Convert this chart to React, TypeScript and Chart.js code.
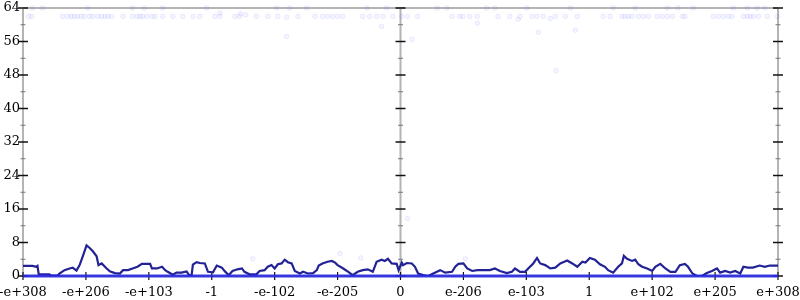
import React, { useEffect, useRef } from "react";
import { Chart, registerables } from "chart.js";

Chart.register(...registerables);

const xTickLabels = ["-e+308", "-e+206", "-e+103", "-1", "-e-102", "-e-205", "0", "e-206", "e-103", "1", "e+102", "e+205", "e+308"];
const xTickValues = [-6, -5, -4, -3, -2, -1, 0, 1, 2, 3, 4, 5, 6];
const yMax = 64;
const yStep = 8;

const lineX = [
  -6.0, -5.85, -5.79, -5.77, -5.75, -5.58, -5.55, -5.45, -5.42, -5.34, -5.26, -5.21, -5.15, -5.1, -5.05, -4.99, -4.94, -4.89, -4.83, -4.8, -4.75, -4.67, -4.62, -4.54, -4.46, -4.41, -4.33, -4.26, -4.18, -4.11, -3.98, -3.95, -3.87, -3.79, -3.74, -3.7, -3.62, -3.56, -3.48, -3.4, -3.36, -3.32, -3.3, -3.24, -3.19,
  -3.11, -3.06, -2.98, -2.92, -2.84, -2.79, -2.73, -2.67, -2.59, -2.52, -2.48, -2.4, -2.29, -2.24, -2.16, -2.11, -2.05, -2.0, -1.95, -1.89, -1.84, -1.79, -1.73, -1.68, -1.6, -1.55, -1.47, -1.39, -1.33, -1.3, -1.24, -1.16, -1.09, -1.04, -1.0, -0.91, -0.83, -0.76, -0.68, -0.6, -0.52, -0.44, -0.38, -0.3, -0.25, -0.2, -0.14, -0.06, -0.03,
  0.02, 0.04, 0.1, 0.18, 0.23, 0.28, 0.36, 0.44, 0.52, 0.63, 0.71, 0.82, 0.87, 0.92, 1.0, 1.06, 1.14, 1.22, 1.31, 1.42, 1.5, 1.58, 1.69, 1.77, 1.82, 1.9, 1.98, 2.03, 2.11, 2.17, 2.22, 2.3, 2.38, 2.46, 2.54, 2.65, 2.73, 2.81, 2.89, 2.94,
  3.01, 3.09, 3.17, 3.25, 3.3, 3.38, 3.46, 3.52, 3.55, 3.6, 3.68, 3.73, 3.78, 3.84, 3.92, 4.0, 4.05, 4.13, 4.21, 4.29, 4.37, 4.44, 4.52, 4.57, 4.64, 4.71, 4.79, 4.87, 4.95, 5.03, 5.08, 5.16, 5.24, 5.32, 5.4, 5.45, 5.52, 5.6, 5.71, 5.79, 5.87, 6.0,
];
const lineY = [
  2.4, 2.4, 2.2, 2.4, 0.4, 0.4, 0.1, 0.1, 0.6, 1.4, 1.8, 2.0, 1.3, 2.6, 4.7, 7.3, 6.7, 5.9, 4.7, 2.6, 3.0, 1.8, 1.1, 0.7, 0.6, 1.4, 1.4, 1.8, 2.2, 2.9, 2.9, 1.8, 1.8, 2.2, 1.4, 1.0, 0.3, 0.8, 0.8, 1.1, 0.2, 0.2, 2.7, 3.3, 3.1,
  3.0, 1.0, 0.9, 2.5, 2.0, 1.1, 0.2, 1.2, 1.6, 1.8, 1.0, 0.4, 0.4, 1.2, 1.4, 2.2, 2.6, 1.8, 2.8, 3.0, 3.9, 3.3, 3.0, 1.2, 0.6, 1.0, 0.6, 0.7, 1.4, 2.5, 3.0, 3.4, 3.6, 3.2, 2.6, 1.8, 1.0, 0.2, 1.0, 1.4, 1.6, 1.0, 3.4, 3.9, 3.6, 4.1, 3.0, 2.9, 1.4,
  3.2, 2.6, 3.1, 3.0, 2.2, 0.6, 0.2, 0.0, 0.6, 1.4, 0.8, 1.0, 2.2, 2.9, 3.0, 1.8, 1.2, 1.4, 1.4, 1.4, 1.8, 1.2, 0.7, 1.0, 1.8, 1.0, 1.0, 1.8, 3.0, 4.3, 3.0, 2.6, 1.8, 2.0, 3.0, 3.7, 3.0, 2.2, 3.4, 3.2,
  4.3, 3.9, 2.8, 2.2, 1.4, 0.8, 2.2, 3.0, 4.8, 4.1, 3.6, 3.9, 2.8, 2.2, 1.8, 1.2, 2.2, 2.9, 1.8, 1.0, 1.0, 2.6, 2.9, 2.2, 0.6, 0.0, 0.0, 0.7, 1.2, 1.8, 0.8, 1.2, 0.8, 1.2, 0.6, 2.2, 2.0, 2.0, 2.5, 2.2, 2.5, 2.5,
];

const zeroX = [-6, 6];
const zeroY = [0, 0];

const dotX = [
  -5.91, -5.86, -5.37, -5.29, -5.23, -5.18, -5.13, -5.07, -5.02, -4.94, -4.89, -4.81, -4.75, -4.7, -4.65, -4.59, -4.41, -4.26, -4.19, -4.14, -4.1, -4.03, -3.95, -3.9, -3.78, -3.62, -3.46, -3.3, -3.19,
  -2.95, -2.87, -2.63, -2.56, -2.29, -2.11, -1.95, -1.81, -1.63, -1.36, -1.24, -1.16, -1.08, -1.0, -0.92, -0.6, -0.49, -0.38, -0.28, -0.12,
  0.02, 0.11, 0.27, 0.82, 0.94, 0.99, 1.1, 1.22, 1.55, 1.74, 1.9, 2.09, 2.17, 2.27, 2.46, 2.62, 2.81,
  3.22, 3.33, 3.52, 3.57, 3.62, 3.68, 3.78, 3.86, 3.94, 4.08, 4.16, 4.24, 4.32, 4.48, 4.52, 4.97, 5.05, 5.13, 5.21, 5.27, 5.45, 5.51, 5.56, 5.61, 5.69, 5.83, 5.99,
  -5.85, -5.69, -4.97, -4.26, -4.07, -3.78, -3.08, -1.97, -1.76, -1.49, -0.53, -0.22, 0.58, 0.74, 1.37, 1.5, 2.01, 2.7, 3.38, 3.73, 4.24, 4.41, 4.65, 5.29, 5.51, 5.67, 5.79,
  -2.87, -2.54, -2.46, -1.81, -0.3, 0.18, 1.22, 1.87, 2.19, 2.38, 2.78, 2.47, -2.35, -0.96, -0.63, 0.11, 1.03,
];
const dotY = [
  62, 62, 62, 62, 62, 62, 62, 62, 62, 62, 62, 62, 62, 62, 62, 62, 62, 62, 62, 62, 62, 62, 62, 62, 62, 62, 62, 62, 62,
  62, 62, 62, 62, 62, 62, 62, 61.8, 62, 62, 62, 62, 62, 62, 62, 62, 62, 62, 62, 62,
  62, 62, 62, 62, 62, 62, 62, 62, 62, 62, 62, 62, 62, 62, 62, 62, 62,
  62, 62, 62, 62, 62, 62, 62, 62, 62, 62, 62, 62, 62, 62, 62, 62, 62, 62, 62, 62, 62, 62, 62, 62, 62, 62, 62,
  64, 64, 64, 64, 64, 64, 64, 64, 64, 64, 64, 64, 64, 64, 64, 64, 64, 64, 64, 64, 64, 64, 64, 64, 64, 64, 64,
  62.8, 62.6, 62.4, 57.2, 59.6, 56.5, 60.4, 61.3, 58.2, 61.5, 58.7, 49, 4.1, 5.4, 4.3, 13.7, 4.1,
];

const FONT = { family: "'DejaVu Serif', serif", size: 13 };

const axesPlugin = {
  id: "customAxes",
  beforeDatasetsDraw(chart: any) {
    const { ctx, chartArea, scales } = chart;
    const { left, right, top, bottom } = chartArea;
    const xs = scales.x;
    const ys = scales.y;
    const mid = xs.getPixelForValue(0);
    const seg = (x1: number, y1: number, x2: number, y2: number) => {
      ctx.beginPath();
      ctx.moveTo(x1, y1);
      ctx.lineTo(x2, y2);
      ctx.stroke();
    };
    ctx.save();
    ctx.strokeStyle = "#b4b4b4";
    ctx.lineWidth = 2;
    seg(left, top, right, top);
    seg(left, bottom, right, bottom);
    [left, mid, right].forEach((px) => seg(px, top, px, bottom));
    for (let v = 0; v <= yMax; v += yStep / 2) {
      const py = ys.getPixelForValue(v);
      const major = v % yStep === 0;
      ctx.strokeStyle = major ? "#111" : "#777";
      ctx.lineWidth = major ? 1.5 : 1;
      const half = major ? 5 : 2.5;
      [left, mid, right].forEach((px) => seg(px - half, py, px + half, py));
    }
    ctx.strokeStyle = "#111";
    ctx.lineWidth = 1.2;
    xTickValues.forEach((v) => {
      const px = xs.getPixelForValue(v);
      seg(px, bottom - 4, px, bottom + 4);
    });
    ctx.restore();
  },
};

export default function App() {
  const ref = useRef<HTMLCanvasElement | null>(null);
  useEffect(() => {
    document.body.style.margin = "0";
    if (!ref.current) return;
    const chart = new Chart(ref.current, {
      type: "line",
      data: {
        datasets: [
          {
            data: zeroX.map((x, i) => ({ x, y: zeroY[i] })),
            borderColor: "rgba(40,40,225,0.9)",
            borderWidth: 3,
            pointRadius: 0,
            clip: false,
          },
          {
            data: lineX.map((x, i) => ({ x, y: lineY[i] })),
            borderColor: "#222296",
            borderWidth: 2.2,
            pointRadius: 0,
            tension: 0,
          },
          {
            data: dotX.map((x, i) => ({ x, y: dotY[i] })),
            showLine: false,
            pointRadius: 2.3,
            pointBorderWidth: 1,
            pointBackgroundColor: "rgba(90,90,255,0.06)",
            pointBorderColor: "rgba(90,90,255,0.1)",
            clip: false,
          },
        ],
      } as any,
      options: {
        animation: false,
        responsive: false,
        maintainAspectRatio: false,
        layout: { padding: { top: 8, right: 0, left: 0, bottom: 0 } },
        plugins: { legend: { display: false }, tooltip: { enabled: false } },
        scales: {
          x: {
            type: "linear",
            min: -6,
            max: 6,
            grid: { display: false, drawTicks: false },
            border: { display: false },
            afterBuildTicks: (scale: any) => {
              scale.ticks = xTickValues.map((v) => ({ value: v }));
            },
            afterFit: (scale: any) => {
              scale.height = 24;
              scale.paddingLeft = 0;
              scale.paddingRight = 22;
            },
            ticks: {
              autoSkip: false,
              maxRotation: 0,
              padding: 9,
              color: "#000",
              font: FONT,
              callback: (v: any) => xTickLabels[xTickValues.indexOf(Number(v))] ?? "",
            },
          },
          y: {
            type: "linear",
            min: 0,
            max: yMax,
            grid: { display: false, drawTicks: false },
            border: { display: false },
            afterFit: (scale: any) => {
              scale.width = 23;
              scale.paddingTop = 0;
              scale.paddingBottom = 0;
            },
            ticks: {
              stepSize: yStep,
              padding: 3,
              color: "#000",
              font: FONT,
            },
          },
        },
      },
      plugins: [axesPlugin],
    });
    return () => chart.destroy();
  }, []);
  return (
    <div style={{ width: 800, height: 300 }}>
      <canvas ref={ref} width={800} height={300} />
    </div>
  );
}
